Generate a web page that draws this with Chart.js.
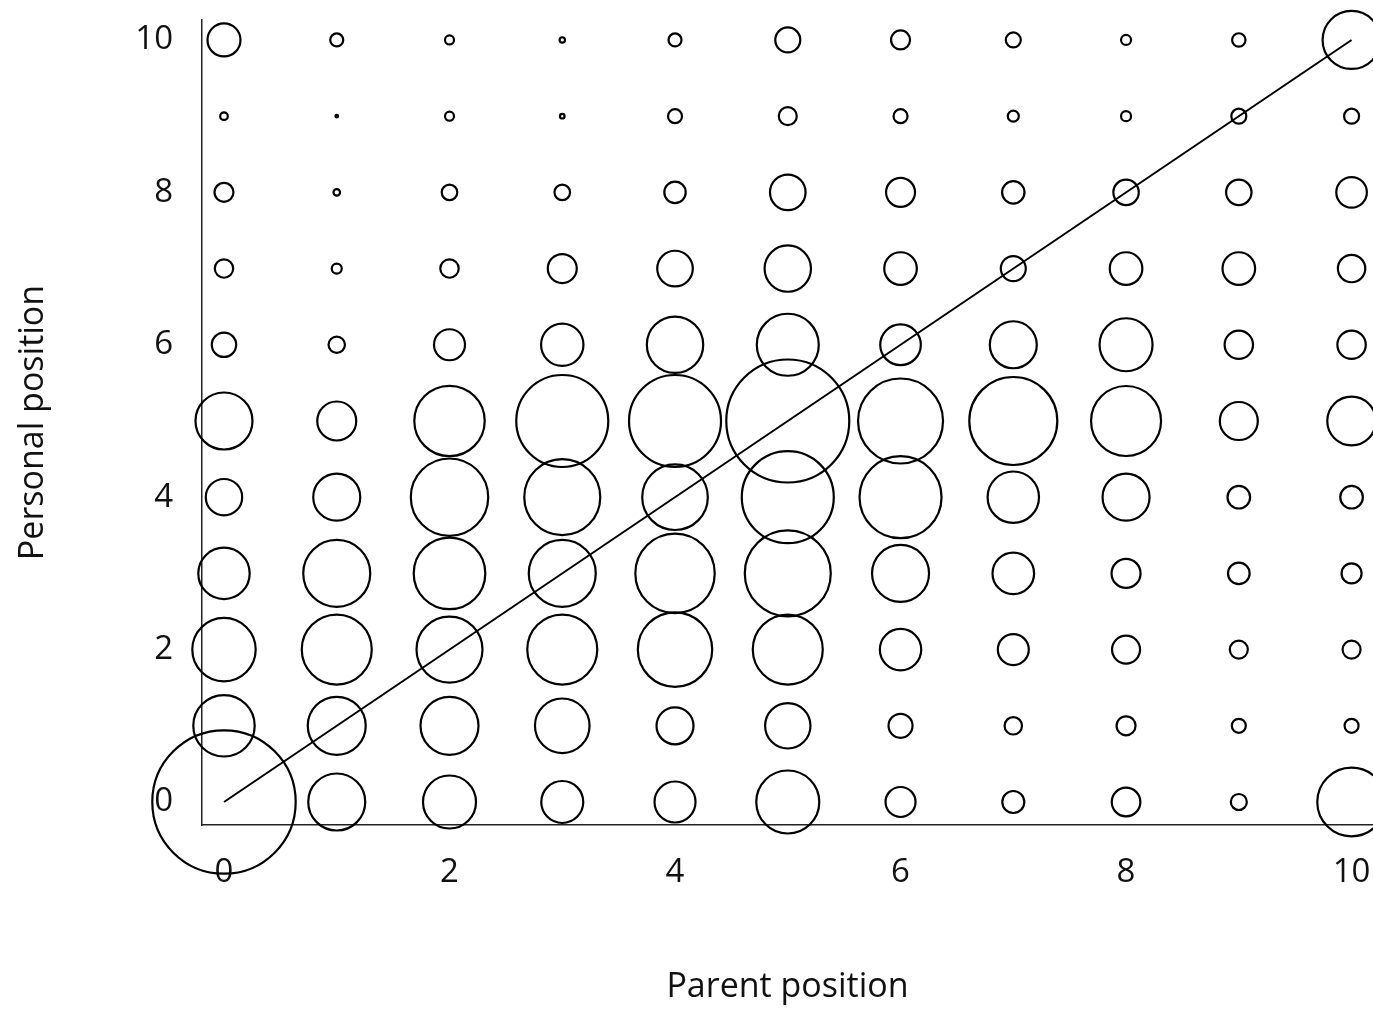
<!DOCTYPE html>
<html>
<head>
<meta charset="utf-8">
<script src="https://cdn.jsdelivr.net/npm/chart.js@4.4.1/dist/chart.umd.min.js"></script>
<style>
  html, body { margin: 0; padding: 0; background: #fff; }
  #wrap { width: 1373px; height: 1010px; }
</style>
</head>
<body>
<div id="wrap"><canvas id="myChart" width="1373" height="1010"></canvas></div>
<script>
// parent position (x) and personal position (y) categories
const parentPos = [0, 1, 2, 3, 4, 5, 6, 7, 8, 9, 10];
const personalPos = [0, 1, 2, 3, 4, 5, 6, 7, 8, 9, 10];
const tickValues = [0, 2, 4, 6, 8, 10];

// bubble radius for each parent position, one array per personal position
const pers0 = [71.7, 28.5, 26.5, 21, 20.5, 31.5, 15, 11, 14.3, 8, 34.3];
const pers1 = [30.7, 29, 29, 27.3, 18.5, 22.7, 12, 8.7, 9.5, 7, 7];
const pers2 = [31.7, 35, 33, 35, 37.2, 35, 20.7, 15.5, 14, 9, 9];
const pers3 = [25.7, 33.5, 35.8, 33.5, 39.7, 43, 28.5, 20.8, 14.5, 10.8, 10];
const pers4 = [18.2, 23.5, 38.7, 38, 32.8, 46, 41, 25.7, 23.5, 11.3, 11.3];
const pers5 = [28.5, 19.5, 35.2, 46, 46, 61.5, 42.5, 44, 35, 19, 24.3];
const pers6 = [12.2, 8.2, 15.5, 21.2, 28.2, 31, 20.3, 23.5, 26.5, 14.2, 14.2];
const pers7 = [9.2, 5, 9.2, 14.5, 17.8, 23.2, 16.3, 12.5, 16.3, 16.3, 13.7];
const pers8 = [9.5, 3.3, 7.8, 7.8, 10.7, 17.8, 14.5, 11.2, 12.7, 12.7, 15.3];
const pers9 = [3.8, 1.3, 4.5, 2.3, 7, 9, 7, 5.5, 5, 7.5, 7.5];
const pers10 = [16.5, 6.5, 4.5, 2.7, 6.5, 12.5, 9.5, 7.5, 5, 6.7, 29];

const rows = [pers0, pers1, pers2, pers3, pers4, pers5, pers6, pers7, pers8, pers9, pers10];

let bubbles = [];
personalPos.forEach((y, i) => {
  parentPos.forEach((x, j) => {
    bubbles.push({ x: x, y: y, r: rows[i][j] });
  });
});

const fontFamily = "'Open Sans', sans-serif";

ctx = document.getElementById("myChart").getContext("2d");
myChart = new Chart(ctx, {
  type: "bubble",
  data: {
    datasets: [
      {
        label: "Count",
        data: bubbles,
        backgroundColor: "rgba(0,0,0,0)",
        borderColor: "#000",
        borderWidth: 2.2,
        clip: false,
      },
      {
        type: "line",
        label: "Equal",
        data: [
          { x: parentPos[0], y: personalPos[0] },
          { x: parentPos[10], y: personalPos[10] },
        ],
        borderColor: "#000",
        borderWidth: 2,
        pointRadius: 0,
        fill: false,
        clip: false,
      },
    ],
  },
  options: {
    responsive: false,
    animation: false,
    events: [],
    layout: { autoPadding: false, padding: { top: 20, right: 0, left: 0, bottom: 0 } },
    plugins: {
      legend: { display: false },
      tooltip: { enabled: false },
    },
    scales: {
      x: {
        type: "linear",
        min: -0.195,
        max: 10.19,
        grid: { display: false, drawTicks: false },
        border: { display: true, color: "#222", width: 1.5 },
        afterBuildTicks: (scale) => {
          scale.ticks = tickValues.map((v) => ({ value: v }));
        },
        afterFit: (scale) => {
          scale.height = 185;
          scale.paddingLeft = 0;
          scale.paddingRight = 0;
        },
        ticks: {
          color: "#111",
          padding: 28,
          maxRotation: 0,
          autoSkip: false,
          font: { family: fontFamily, size: 33, lineHeight: 1.2 },
        },
        title: {
          display: true,
          text: "Parent position",
          color: "#111",
          padding: { top: 0, bottom: 2 },
          font: { family: fontFamily, size: 34, lineHeight: 1.2 },
        },
      },
      y: {
        type: "linear",
        min: -0.302,
        max: 10.262,
        grid: { display: false, drawTicks: false },
        border: { display: true, color: "#222", width: 1.5 },
        afterBuildTicks: (scale) => {
          scale.ticks = tickValues.map((v) => ({ value: v }));
        },
        afterFit: (scale) => {
          scale.width = 202;
          scale.paddingTop = 0;
          scale.paddingBottom = 0;
        },
        ticks: {
          color: "#111",
          padding: 29,
          autoSkip: false,
          font: { family: fontFamily, size: 33, lineHeight: 1.2 },
        },
        title: {
          display: true,
          text: "Personal position",
          color: "#111",
          padding: { top: 13, bottom: 0 },
          font: { family: fontFamily, size: 34, lineHeight: 1.2 },
        },
      },
    },
  },
});
</script>
</body>
</html>
